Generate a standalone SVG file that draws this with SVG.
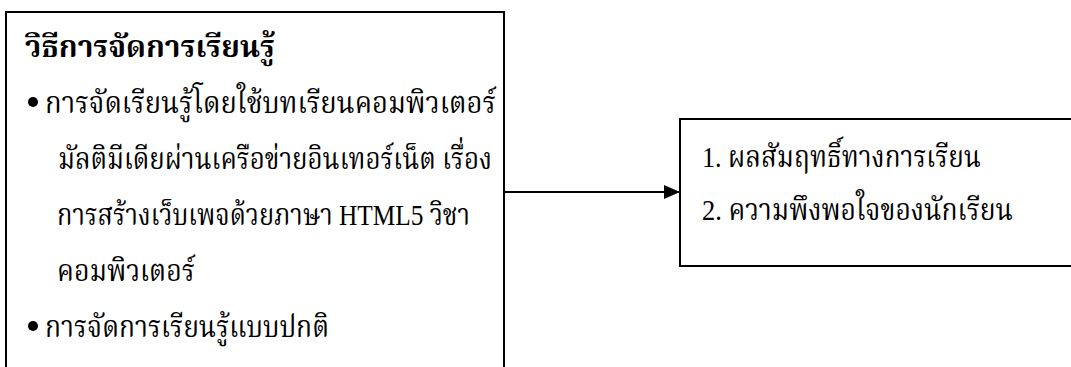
<svg xmlns="http://www.w3.org/2000/svg" width="1071" height="367" viewBox="0 0 1071 367">
  <style>
    .box { fill: #ffffff; stroke: #000000; stroke-width: 2; }
    .t { font-family: "Liberation Serif", "Noto Serif Thai", "Noto Sans Thai", "DejaVu Serif", serif; font-size: 30px; fill: #000000; }
    .b { font-weight: bold; }
    .conn { stroke: #000000; stroke-width: 2; fill: none; }
    .bullet { fill: #000000; }
  </style>
  <defs>
    <marker id="arrow" viewBox="0 0 16 14" refX="16" refY="7" markerWidth="16" markerHeight="14" markerUnits="userSpaceOnUse" orient="auto">
      <path d="M0,0 L16,7 L0,14 z" fill="#000000"/>
    </marker>
  </defs>
  <rect width="1071" height="367" fill="#ffffff"/>
  <g id="method">
    <rect class="box" x="6" y="12" width="498" height="380"/>
    <text class="t b" x="25" y="57" textLength="250" lengthAdjust="spacingAndGlyphs">วิธีการจัดการเรียนรู้</text>
    <circle class="bullet" cx="33" cy="102" r="5"/>
    <text class="t" x="45" y="113" textLength="451" lengthAdjust="spacingAndGlyphs">การจัดเรียนรู้โดยใช้บทเรียนคอมพิวเตอร์</text>
    <text class="t" x="58" y="169" textLength="434" lengthAdjust="spacingAndGlyphs">มัลติมีเดียผ่านเครือข่ายอินเทอร์เน็ต เรื่อง</text>
    <text class="t" x="57" y="225" textLength="413" lengthAdjust="spacingAndGlyphs">การสร้างเว็บเพจด้วยภาษา HTML5 วิชา</text>
    <text class="t" x="57" y="281" textLength="138" lengthAdjust="spacingAndGlyphs">คอมพิวเตอร์</text>
    <circle class="bullet" cx="33" cy="326" r="5"/>
    <text class="t" x="45" y="337" textLength="284" lengthAdjust="spacingAndGlyphs">การจัดการเรียนรู้แบบปกติ</text>
  </g>
  <g id="outcome">
    <rect class="box" x="680" y="119" width="420" height="147"/>
    <text class="t" x="702" y="167" textLength="279" lengthAdjust="spacingAndGlyphs">1.  ผลสัมฤทธิ์ทางการเรียน</text>
    <text class="t" x="702" y="220" textLength="311" lengthAdjust="spacingAndGlyphs">2.  ความพึงพอใจของนักเรียน</text>
  </g>
  <g id="connectors">
    <line class="conn" x1="505" y1="192" x2="680" y2="192" marker-end="url(#arrow)"/>
  </g>
</svg>
